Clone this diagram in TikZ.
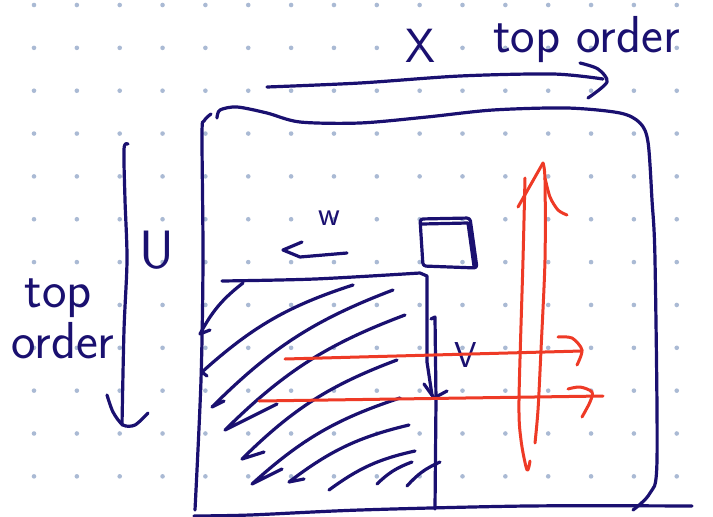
\documentclass[tikz,border=0pt]{standalone}
\usetikzlibrary{calc}
\definecolor{ink}{RGB}{26,16,112}
\definecolor{redink}{RGB}{238,58,38}
\definecolor{gridc}{RGB}{170,186,212}
\tikzset{
  pen/.style={ink,line width=3.2pt,line cap=round,line join=round},
  redpen/.style={redink,line width=3pt,line cap=round,line join=round},
  hand/.style={ink,inner sep=0pt,font=\sffamily\fontsize{#1}{#1}\selectfont}
}

\begin{document}
\begin{tikzpicture}[x=1pt,y=-1pt]
\useasboundingbox (0,0) rectangle (713,517);
\fill[white] (0,0) rectangle (713,517);
% dotted paper
\foreach \i in {0,...,15}{\foreach \j in {0,...,11}{\fill[gridc] ({34+42.85*\i},{5+42.85*\j}) circle (2.3pt);}}
% labels
\node[hand=48] (xlab) at (420,46) {X};
\node[hand=52,anchor=base west] (toporder) at (493,52) {top order};
\node[hand=54] (ulab) at (157,250) {U};
\node[hand=52,anchor=base] (topleft) at (58,307) {top};
\node[hand=52,anchor=base] (orderleft) at (63,358) {order};
\node[hand=34] (wlab) at (329,218) {w};
\node[hand=36] (vlab) at (466,355) {V};
% X arrow
\draw[pen] plot[smooth] coordinates {(267,87) (360,83) (460,76) (553,74) (603,79)};
\draw[pen] plot[smooth] coordinates {(580,63) (598,69) (607,82) (588,98)};
% U arrow
\draw[pen] plot[smooth] coordinates {(128,144) (124,149) (125,200) (127,260) (124,330) (122,425)};
\draw[pen] plot[smooth] coordinates {(107,395) (113,412) (123,425) (135,425) (148,413)};
% outer box
\draw[pen] plot[smooth] coordinates {(211,114) (204,121) (202,135) (203,260) (201,380) (195,510)};
\draw[pen] plot[smooth] coordinates {(217,118) (220,110) (237,107) (267,113) (300,122) (360,123) (427,117) (493,110) (567,108) (620,113) (640,123) (648,142) (652,200) (655,260) (657,460) (650,493) (633,510)};
\draw[pen] plot[smooth] coordinates {(194,516) (250,515) (360,510) (527,506) (692,506)};
% shaded block
\draw[pen] plot[smooth] coordinates {(222,281) (315,279) (420,273)} -- (427,276) -- (427,362) -- (432,395);
\foreach \hx/\hy/\bx/\by/\tx/\ty in {210/330/200/334/243/283, 207/376/202/372/353/285,
    224/401/212/407/393/290, 277/404/225/430/405/315, 264/452/242/459/397/360,
    282/469/252/484/400/398, 304/479/289/482/409/425, 329/490/329/490/415/451,
    377/484/377/484/412/462, 407/486/407/486/440/462}
  \draw[pen] (\hx,\hy) -- (\bx,\by) to[bend left=12] (\tx,\ty);
% V arrow
\draw[pen] (431,319) -- (435,317) -- (436,400) -- (435,509);
\draw[pen] (424,384) -- (434,398) -- (447,391);
% small block
\draw[pen,rounded corners=3pt] (420,219) -- (470,218) -- (477,268) -- (423,266) -- cycle;
\draw[pen] (422,224) -- (468,223) -- (474,266);
% w arrow
\draw[pen] (347,253) -- (300,257) -- (283,250) -- (302,242);
% red sweeps
\draw[redpen] (285,359) -- (582,351);
\draw[redpen] plot[smooth] coordinates {(558,337) (572,338) (582,350) (577,365)};
\draw[redpen] (259,401) -- (603,396);
\draw[redpen] plot[smooth] coordinates {(568,389) (580,387) (592,392) (590,402) (582,417)};
\draw[redpen] plot[smooth] coordinates {(543,163) (545,180) (545,260) (541,350) (538,410) (535,443)};
\draw[redpen] plot[smooth] coordinates {(525,178) (523,260) (519,400) (521,440) (527,470) (530,461)};
\draw[redpen] (518,207) -- (543,163);
\draw[redpen] plot[smooth] coordinates {(545,178) (550,197) (558,210) (567,215)};
\end{tikzpicture}
\end{document}
